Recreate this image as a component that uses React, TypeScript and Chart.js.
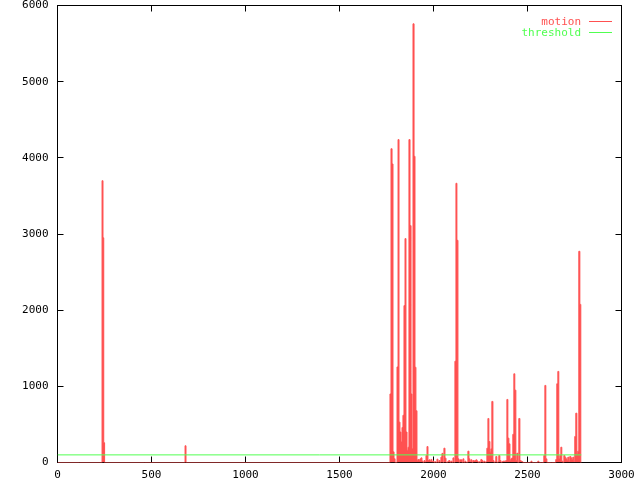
import { useEffect, useRef } from 'react';
import { Chart, registerables } from 'chart.js';

Chart.register(...registerables);

// frame index (x) and motion value (y)
const frames = [
  0, 234, 240, 244, 248, 253,
  676, 681, 686,
  1766, 1771, 1777, 1782, 1787, 1793, 1798, 1803, 1809, 1814,
  1819, 1824, 1830, 1835, 1840, 1846, 1851, 1856, 1862, 1867,
  1872, 1878, 1883, 1888, 1894, 1899, 1904, 1909, 1915, 1920,
  1925, 1931, 1936, 1941, 1947, 1952, 1957, 1963, 1968, 1973,
  1979, 1984, 1989, 1994, 2000, 2005, 2010, 2016, 2021, 2026,
  2032, 2037, 2042, 2048, 2053, 2058, 2064, 2069, 2074, 2079,
  2085, 2090, 2095, 2101, 2106, 2111,
  2117, 2122, 2127, 2133, 2138, 2143, 2149, 2154, 2159, 2164,
  2170, 2175, 2180, 2186, 2191, 2196, 2202, 2207, 2212, 2218,
  2223, 2228, 2234, 2239, 2244, 2249, 2255, 2260, 2265, 2271,
  2276, 2281,
  2287, 2292, 2297, 2303, 2308, 2313, 2319, 2324, 2329, 2334,
  2340, 2345, 2350, 2356, 2361, 2366, 2372, 2377, 2382, 2388,
  2393, 2398, 2404, 2409, 2414, 2419, 2425, 2430, 2435, 2441,
  2446, 2451, 2457, 2462, 2467, 2473,
  2478, 2516, 2521, 2526, 2552, 2558, 2563, 2584, 2590, 2595, 2600, 2606, 2648,
  2653, 2659, 2664, 2669, 2675, 2680, 2685, 2691, 2696, 2701,
  2707, 2712, 2717, 2722, 2728, 2733, 2738, 2744, 2749, 2754,
  2760, 2765, 2770, 2776, 2781, 2786,
];

const motion = [
  0, 0, 3700, 2950, 260, 0,
  0, 220, 0,
  0, 900, 4120, 3920, 140, 50, 0, 0, 1255, 4240,
  530, 400, 270, 460, 620, 2060, 2940, 400, 160, 200,
  4240, 3110, 900, 180, 5760, 4020, 1250, 680, 30, 40,
  30, 48, 61, 18, 0, 26, 9, 92, 210, 26,
  35, 13, 40, 10, 20, 0, 10, 0, 44, 0,
  26, 0, 70, 120, 0, 188, 57, 0, 0, 18,
  26, 0, 18, 0, 61, 0,
  1330, 3666, 2917, 48, 0, 35, 35, 0, 48, 0,
  18, 0, 0, 149, 48, 10, 35, 0, 26, 20,
  26, 35, 20, 0, 10, 0, 40, 26, 0, 18,
  0, 10,
  188, 578, 276, 136, 180, 802, 26, 0, 10, 79,
  0, 10, 92, 26, 0, 10, 18, 18, 18, 26,
  828, 320, 245, 26, 48, 60, 370, 1165, 950, 26,
  122, 0, 578, 26, 18, 10,
  0, 0, 18, 0, 0, 18, 0, 0, 92, 1012, 48, 0, 0,
  39, 1034, 1196, 48, 92, 201, 18, 0, 92, 70,
  48, 26, 70, 18, 79, 61, 39, 70, 18, 342,
  648, 114, 149, 2773, 2076, 0,
];

const thresholdFrames = [0, 2786];
const thresholdLevel = 100;

const xTicks = [0, 500, 1000, 1500, 2000, 2500, 3000];
const yTicks = [0, 1000, 2000, 3000, 4000, 5000, 6000];
const seriesNames = ['motion', 'threshold'];

const RED = '#ff5050';
const GREEN = '#50ff50';
const FONT = '"DejaVu Sans Mono", monospace';

export default function App() {
  const ref = useRef<HTMLCanvasElement>(null);

  useEffect(() => {
    if (!ref.current) return;
    const snap = (v: number) => Math.floor(v) + 0.5;

    const framePlugin = {
      id: 'gnuFrame',
      beforeDatasetsDraw(chart: any) {
        const { ctx } = chart;
        const x = chart.scales.x;
        const y = chart.scales.y;
        const l = snap(x.getPixelForValue(x.min));
        const r = snap(x.getPixelForValue(x.max));
        const t = snap(y.getPixelForValue(y.max));
        const b = snap(y.getPixelForValue(y.min));
        const len = 6;
        ctx.save();
        ctx.strokeStyle = '#000';
        ctx.lineWidth = 1;
        ctx.strokeRect(l, t, r - l, b - t);
        ctx.beginPath();
        xTicks.forEach((v) => {
          const p = snap(x.getPixelForValue(v));
          ctx.moveTo(p, b);
          ctx.lineTo(p, b - len);
          ctx.moveTo(p, t);
          ctx.lineTo(p, t + len);
        });
        yTicks.forEach((v) => {
          const p = snap(y.getPixelForValue(v));
          ctx.moveTo(l, p);
          ctx.lineTo(l + len, p);
          ctx.moveTo(r, p);
          ctx.lineTo(r - len, p);
        });
        ctx.stroke();
        ctx.restore();
      },
    };

    const legendPlugin = {
      id: 'gnuLegend',
      afterDraw(chart: any) {
        const { ctx, chartArea } = chart;
        const textRight = chartArea.right - 40.5;
        const lineStart = chartArea.right - 32.5;
        const lineEnd = chartArea.right - 9.5;
        ctx.save();
        ctx.font = `11px ${FONT}`;
        ctx.textAlign = 'right';
        ctx.textBaseline = 'middle';
        chart.data.datasets.forEach((ds: any, i: number) => {
          const yy = chartArea.top + 16 + i * 11;
          ctx.fillStyle = ds.borderColor;
          ctx.fillText(ds.label, textRight, yy + 0.5);
          ctx.strokeStyle = ds.borderColor;
          ctx.lineWidth = 1;
          ctx.beginPath();
          ctx.moveTo(lineStart, yy);
          ctx.lineTo(lineEnd, yy);
          ctx.stroke();
        });
        ctx.restore();
      },
    };

    const chart = new Chart(ref.current, {
      type: 'line',
      data: {
        datasets: [
          {
            label: seriesNames[0],
            data: frames.map((f, i) => ({ x: f, y: motion[i] })),
            borderColor: RED,
            backgroundColor: RED,
            borderWidth: 1,
            pointRadius: 0,
            stepped: 'middle',
            fill: 'origin',
            order: 1,
          },
          {
            label: seriesNames[1],
            data: thresholdFrames.map((f) => ({ x: f, y: thresholdLevel })),
            borderColor: GREEN,
            backgroundColor: GREEN,
            borderWidth: 1,
            pointRadius: 0,
            fill: false,
            order: 0,
          },
        ],
      },
      options: {
        animation: false,
        responsive: false,
        maintainAspectRatio: false,
        layout: { padding: { left: 0, top: 5.5, right: 18.5, bottom: 0 } },
        plugins: {
          legend: { display: false },
          tooltip: { enabled: false },
        },
        scales: {
          x: {
            type: 'linear',
            min: 0,
            max: 3000,
            grid: { display: false, drawTicks: false },
            border: { display: false },
            afterBuildTicks: (s: any) => {
              s.ticks = xTicks.map((v) => ({ value: v }));
            },
            afterFit: (s: any) => {
              s.height = 17.5;
              s.paddingLeft = 0;
              s.paddingRight = 0;
            },
            ticks: {
              color: '#000',
              font: { family: FONT, size: 11 },
              padding: 6,
              maxRotation: 0,
              autoSkip: false,
              callback: (v: any) => String(v),
            },
          },
          y: {
            type: 'linear',
            min: 0,
            max: 6000,
            grid: { display: false, drawTicks: false },
            border: { display: false },
            afterBuildTicks: (s: any) => {
              s.ticks = yTicks.map((v) => ({ value: v }));
            },
            afterFit: (s: any) => {
              s.width = 57.5;
              s.paddingTop = 0;
              s.paddingBottom = 0;
            },
            ticks: {
              color: '#000',
              font: { family: FONT, size: 11 },
              padding: 9,
              autoSkip: false,
              callback: (v: any) => String(v),
            },
          },
        },
      },
      plugins: [framePlugin, legendPlugin],
    });

    return () => chart.destroy();
  }, []);

  return (
    <div style={{ position: 'fixed', left: 0, top: 0, width: 640, height: 480, background: '#fff' }}>
      <canvas ref={ref} width={640} height={480} style={{ display: 'block', width: 640, height: 480 }} />
    </div>
  );
}
